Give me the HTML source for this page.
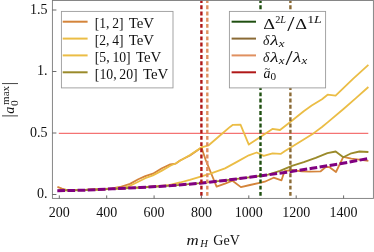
<!DOCTYPE html>
<html><head><meta charset="utf-8"><title>plot</title>
<style>
html,body{margin:0;padding:0;background:#fff;}
svg{display:block;transform:translateZ(0);will-change:transform;}
text{font-family:"Liberation Serif",serif;fill:#111;}
.i{font-style:italic;}
</style></head><body>
<svg width="374" height="252" viewBox="0 0 374 252">
<rect x="0" y="0" width="374" height="252" fill="#fff"/>

<g fill="none" stroke-linejoin="round" stroke-linecap="butt">
<line x1="58.8" y1="133.3" x2="368.3" y2="133.3" stroke="#f25050" stroke-width="1"/>
<polyline points="57.4,186.9 62.0,188.6 67.0,190.1 85.0,190.0 105.0,189.0 112.0,188.3 120.0,187.0 130.0,183.9 138.3,179.3 145.3,176.1 152.9,173.7 161.9,168.2 170.3,164.4 175.8,163.6 180.0,160.5 190.0,155.5 201.5,147.5 205.7,160.0 216.6,186.7 225.0,183.7 232.5,180.7 240.9,187.1 250.0,185.0 260.7,182.7 264.7,181.7 273.6,177.7 281.5,180.3 284.5,171.2 291.9,170.0 301.8,171.3 309.8,171.7 320.7,171.3 326.0,166.8 329.6,167.2 336.0,172.0 343.3,156.8 351.3,158.6 361.0,159.8 368.4,160.8" stroke="#d4843a" stroke-width="1.8"/>
<polyline points="58.6,190.3 85.0,190.0 105.0,189.3 115.0,188.6 124.0,187.6 130.0,185.8 138.3,181.7 145.3,178.2 152.9,175.4 161.9,170.6 170.3,165.8 175.8,163.3 180.0,160.7 190.0,155.0 201.3,147.4 208.7,145.3 222.6,133.2 230.0,126.9 232.9,124.8 240.5,124.6 248.8,144.6 260.7,136.7 272.4,128.9 280.0,130.0 290.6,121.7 303.7,111.2 311.7,105.6 322.0,99.2 327.6,94.7 335.6,95.6 353.0,78.8 368.4,64.8" stroke="#ebbd45" stroke-width="1.8"/>
<polyline points="58.6,190.3 85.0,190.0 112.0,188.8 140.0,187.5 160.0,186.0 170.0,184.8 180.0,182.5 189.8,179.8 209.7,173.8 225.0,168.4 236.9,161.9 248.8,155.3 256.7,152.5 263.7,155.9 272.6,153.3 280.6,153.9 285.0,151.0 302.9,140.0 313.4,133.4 322.0,127.0 327.6,122.4 343.5,109.0 356.2,97.9 368.4,87.0" stroke="#ebbd45" stroke-width="1.8"/>
<polyline points="58.6,190.3 85.0,190.0 112.0,188.8 140.0,187.5 172.0,185.6 200.0,183.2 225.0,180.4 255.0,176.6 268.0,174.7 280.0,170.8 291.9,165.8 303.8,162.2 315.7,157.9 327.4,153.2 335.7,151.5 343.3,157.2 351.3,153.3 359.4,151.5 368.4,152.0" stroke="#9a8a2a" stroke-width="1.8"/>
<polyline points="57.3,190.7 85.0,190.2 112.0,188.8 140.0,187.5 172.0,185.6 200.0,183.2 225.0,180.4 255.0,176.6 285.0,172.5 312.0,168.3 340.0,163.8 368.4,158.5" stroke="#800080" stroke-width="3.0" stroke-dasharray="7.7 2.44" stroke-dashoffset="0"/>
<line x1="201.4" y1="0.5" x2="201.4" y2="198.4" stroke="#b01818" stroke-width="2.4" stroke-dasharray="3.9 2.32" stroke-dashoffset="1.42"/>
<line x1="207.3" y1="0.5" x2="207.3" y2="198.4" stroke="#e09060" stroke-width="2.4" stroke-dasharray="3.9 2.32" stroke-dashoffset="1.42"/>
<line x1="260.5" y1="0.5" x2="260.5" y2="198.4" stroke="#1f4f10" stroke-width="2.4" stroke-dasharray="3.9 2.32" stroke-dashoffset="1.42"/>
<line x1="290.4" y1="0.5" x2="290.4" y2="198.4" stroke="#8a6a35" stroke-width="2.4" stroke-dasharray="3.9 2.32" stroke-dashoffset="1.42"/>
</g>
<rect x="52.4" y="0.5" width="321.0" height="197.9" fill="none" stroke="#7a7a7a" stroke-width="0.9"/>
<g stroke="#5a5a5a" stroke-width="0.9">
<line x1="59.3" y1="198.4" x2="59.3" y2="195.4"/>
<line x1="106.7" y1="198.4" x2="106.7" y2="195.4"/>
<line x1="154.1" y1="198.4" x2="154.1" y2="195.4"/>
<line x1="201.4" y1="198.4" x2="201.4" y2="195.4"/>
<line x1="248.8" y1="198.4" x2="248.8" y2="195.4"/>
<line x1="296.2" y1="198.4" x2="296.2" y2="195.4"/>
<line x1="343.6" y1="198.4" x2="343.6" y2="195.4"/>
<line x1="52.4" y1="194.5" x2="56.4" y2="194.5"/>
<line x1="52.4" y1="133.0" x2="56.4" y2="133.0"/>
<line x1="52.4" y1="71.5" x2="56.4" y2="71.5"/>
<line x1="52.4" y1="10.0" x2="56.4" y2="10.0"/>
</g>
<g font-size="14px">
<text x="59.3" y="216.6" text-anchor="middle">200</text>
<text x="106.7" y="216.6" text-anchor="middle">400</text>
<text x="154.1" y="216.6" text-anchor="middle">600</text>
<text x="201.4" y="216.6" text-anchor="middle">800</text>
<text x="248.8" y="216.6" text-anchor="middle">1000</text>
<text x="296.2" y="216.6" text-anchor="middle">1200</text>
<text x="343.6" y="216.6" text-anchor="middle">1400</text>
<text x="47.6" y="198.3" text-anchor="end">0.</text>
<text x="47.6" y="136.8" text-anchor="end">0.5</text>
<text x="47.6" y="75.3" text-anchor="end">1.</text>
<text x="47.6" y="13.8" text-anchor="end">1.5</text>
</g>
<text x="186.6" y="244.5" font-size="14px" class="i" textLength="12.2" lengthAdjust="spacingAndGlyphs">m</text><text x="200.3" y="246.7" font-size="10px" class="i" textLength="7.6" lengthAdjust="spacingAndGlyphs">H</text><text x="213.3" y="244.5" font-size="14px" textLength="26.5" lengthAdjust="spacingAndGlyphs">GeV</text>
<g transform="translate(13.9,117.5) rotate(-90)" font-size="14px"><text x="0" y="0" font-size="16px">|</text><text x="3.8" y="0" class="i">a</text><text x="11.4" y="3.6" font-size="10.5px" textLength="5.8" lengthAdjust="spacingAndGlyphs">0</text><text x="12.6" y="-5.3" font-size="10px" textLength="19" lengthAdjust="spacingAndGlyphs">max</text><text x="32.2" y="0" font-size="16px">|</text></g>
<rect x="61.4" y="11.4" width="111.6" height="76.5" fill="#fff" stroke="#9a9a9a" stroke-width="0.9"/>
<line x1="62.7" y1="21.7" x2="87.6" y2="21.7" stroke="#d4843a" stroke-width="2"/>
<text x="94.8" y="28.1" font-size="14px" textLength="28.7" lengthAdjust="spacingAndGlyphs">[1, 2]</text>
<text x="128.7" y="28.1" font-size="14px" textLength="25.4" lengthAdjust="spacingAndGlyphs">TeV</text>
<line x1="62.7" y1="38.6" x2="87.6" y2="38.6" stroke="#ebbd45" stroke-width="2"/>
<text x="94.8" y="45.0" font-size="14px" textLength="28.7" lengthAdjust="spacingAndGlyphs">[2, 4]</text>
<text x="128.7" y="45.0" font-size="14px" textLength="25.4" lengthAdjust="spacingAndGlyphs">TeV</text>
<line x1="62.7" y1="55.4" x2="87.6" y2="55.4" stroke="#ebbd45" stroke-width="2"/>
<text x="94.8" y="61.8" font-size="14px" textLength="35.9" lengthAdjust="spacingAndGlyphs">[5, 10]</text>
<text x="135.9" y="61.8" font-size="14px" textLength="25.4" lengthAdjust="spacingAndGlyphs">TeV</text>
<line x1="62.7" y1="72.3" x2="87.6" y2="72.3" stroke="#9a8a2a" stroke-width="2"/>
<text x="94.8" y="78.7" font-size="14px" textLength="42.9" lengthAdjust="spacingAndGlyphs">[10, 20]</text>
<text x="142.9" y="78.7" font-size="14px" textLength="25.4" lengthAdjust="spacingAndGlyphs">TeV</text>
<rect x="229.4" y="11.4" width="96.2" height="76.5" fill="#fff" stroke="#9a9a9a" stroke-width="0.9"/>
<line x1="231.6" y1="21.7" x2="256" y2="21.7" stroke="#1f4f10" stroke-width="2"/>
<line x1="231.6" y1="38.6" x2="256" y2="38.6" stroke="#8a6a35" stroke-width="2"/>
<line x1="231.6" y1="55.4" x2="256" y2="55.4" stroke="#e09060" stroke-width="2"/>
<line x1="231.6" y1="72.3" x2="256" y2="72.3" stroke="#b01818" stroke-width="2"/>
<g font-size="14px">
<text x="263.3" y="28.6" textLength="11.8" lengthAdjust="spacingAndGlyphs">Δ</text><text x="275.2" y="22.8" font-size="10.5px" textLength="10.8" lengthAdjust="spacingAndGlyphs">2<tspan class="i">L</tspan></text><text x="287.3" y="31.3" font-size="20px" textLength="7.2" lengthAdjust="spacingAndGlyphs">/</text><text x="295.3" y="28.6" textLength="11.8" lengthAdjust="spacingAndGlyphs">Δ</text><text x="307.2" y="22.8" font-size="10.5px" textLength="14.6" lengthAdjust="spacingAndGlyphs">1<tspan class="i">L</tspan></text>
<text x="263.0" y="45.2" font-size="14px" class="i" textLength="6.4" lengthAdjust="spacingAndGlyphs">δ</text><text x="270.2" y="45.2" font-size="14px" class="i" textLength="8.3" lengthAdjust="spacingAndGlyphs">λ</text><text x="278.8" y="47.3" font-size="10px" class="i" textLength="5.8" lengthAdjust="spacingAndGlyphs">x</text>
<text x="263.0" y="62.0" font-size="14px" class="i" textLength="6.4" lengthAdjust="spacingAndGlyphs">δ</text><text x="270.2" y="62.0" font-size="14px" class="i" textLength="8.3" lengthAdjust="spacingAndGlyphs">λ</text><text x="278.8" y="64.1" font-size="10px" class="i" textLength="5.8" lengthAdjust="spacingAndGlyphs">x</text><text x="285.4" y="64.8" font-size="20px" textLength="7.2" lengthAdjust="spacingAndGlyphs">/</text><text x="293.0" y="62.0" font-size="14px" class="i" textLength="8.3" lengthAdjust="spacingAndGlyphs">λ</text><text x="301.6" y="64.1" font-size="10px" class="i" textLength="5.8" lengthAdjust="spacingAndGlyphs">x</text>
<text x="263.6" y="78.1" font-size="14px" class="i" textLength="7" lengthAdjust="spacingAndGlyphs">a</text><text x="270.6" y="80.4" font-size="10.5px" textLength="5.6" lengthAdjust="spacingAndGlyphs">0</text><text x="264.6" y="71.6" font-size="11px" textLength="5.6" lengthAdjust="spacingAndGlyphs">~</text>
</g>
</svg></body></html>
